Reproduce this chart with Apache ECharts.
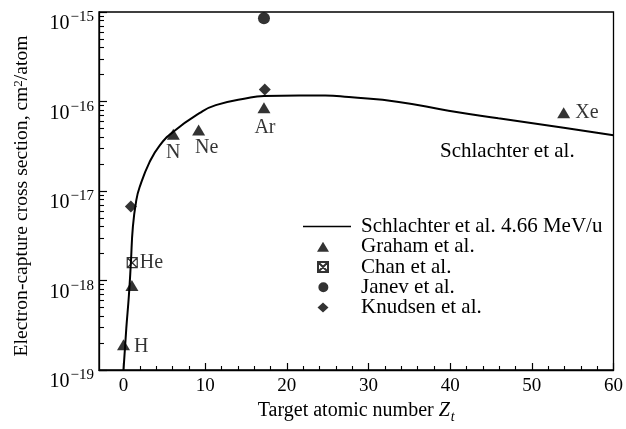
<!DOCTYPE html>
<html><head><meta charset="utf-8">
<script src="https://cdn.jsdelivr.net/npm/echarts@6/dist/echarts.min.js"></script>
<style>html,body{margin:0;padding:0;background:#fff}#c{width:626px;height:429px}</style>
</head><body><div id="c"></div>
<script>
// Schlachter et al. 4.66 MeV/u curve
const curveZ =     [0,     0.34,    0.66,    0.90,     1.15,    1.56,    1.97,    3.19,    4.4,     6.1,     9.3,     11.3,    15.4,    17.2,     21.5,     24.7,     27.6,     33.7,    39.8,    45.9,    53.9,    60];
const curveSigma = [1e-19, 2.9e-19, 6.8e-19, 1.55e-18, 4.0e-18, 7.8e-18, 1.1e-17, 2.1e-17, 3.2e-17, 4.6e-17, 7.4e-17, 9.1e-17, 1.1e-16, 1.15e-16, 1.17e-16, 1.17e-16, 1.12e-16, 9.9e-17, 7.9e-17, 6.5e-17, 5.1e-17, 4.2e-17];

const grahamZ = [0, 1.03, 6.1, 9.2, 17.2, 53.9];
const grahamSigma = [1.92e-19, 8.8e-19, 4.3e-17, 4.8e-17, 8.5e-17, 7.5e-17];
const grahamLabels = ['H', '', 'N', 'Ne', 'Ar', 'Xe'];

const chanZ = [1.07];
const chanSigma = [1.58e-18];
const chanLabels = ['He'];

const janevZ = [17.2];
const janevSigma = [8.5e-16];

const knudsenZ = [0.9, 17.3];
const knudsenSigma = [6.7e-18, 1.36e-16];

const xTicks = [0, 10, 20, 30, 40, 50, 60];
const xMinorTicks = [2, 4, 6, 8, 12, 14, 16, 18, 22, 24, 26, 28, 32, 34, 36, 38, 42, 44, 46, 48, 52, 54, 56, 58];
const yTickExponents = [-19, -18, -17, -16, -15];
const yMinorMantissas = [2, 3, 4, 5, 6, 7, 8, 9];

const seriesNames = ['Schlachter et al. 4.66 MeV/u', 'Graham et al.', 'Chan et al.', 'Janev et al.', 'Knudsen et al.'];
const annotationText = 'Schlachter et al.';

const FONT = 'Liberation Serif';
const yMajor = yTickExponents.map(e => Math.pow(10, e));
const yMinor = [];
yTickExponents.slice(0, -1).forEach(e => yMinorMantissas.forEach(m => yMinor.push(m * Math.pow(10, e))));

const labelCfg = {
  H:  {position: 'right', distance: 4, offset: [0, 2]},
  N:  {position: 'bottom', distance: 3, offset: [0, 0]},
  Ne: {position: 'bottom', distance: 2, offset: [8, 0]},
  Ar: {position: 'bottom', distance: 4, offset: [1, 0]},
  Xe: {position: 'right', distance: 5, offset: [0, 0]},
  He: {position: 'right', distance: 2, offset: [0, 0]}
};
function pts(zs, ss, labels) {
  return zs.map((z, i) => {
    const item = {value: [z, ss[i]]};
    const l = labels && labels[i];
    if (l) {
      item.label = Object.assign({show: true, formatter: l, fontFamily: FONT, fontSize: 20, color: '#000'}, labelCfg[l]);
    }
    return item;
  });
}

const chanPath = 'path://M0,0L10,0L10,10L0,10Z M0,0L10,10 M10,0L0,10';
// legend icons: a 48-wide frame (end points) keeps the marks left of centre like the reference
const legendIcons = [
  'path://M0,4.2L48,4.2L48,5.8L0,5.8Z M0,0L0.3,0 M47.7,10L48,10',
  'path://M20,0L26,10L14,10Z M0,0L0.3,0 M47.7,10L48,10',
  'path://M15,0L25,0L25,10L15,10Z M15,0L25,10 M25,0L15,10 M0,0L0,0 M48,10L48,10',
  'path://M25.5,5A5.5,5.5,0,1,1,14.5,5A5.5,5.5,0,1,1,25.5,5Z M0,0L0.3,0 M47.7,10L48,10',
  'path://M20,0L25.5,5L20,10L14.5,5Z M0,0L0.3,0 M47.7,10L48,10'
];

const chart = echarts.init(document.getElementById('c'), null, {renderer: 'canvas'});
chart.setOption({
  animation: false,
  backgroundColor: '#fff',
  grid: {left: 99, right: 10, top: 12, bottom: 54, show: true, borderColor: '#000', borderWidth: 1.3, backgroundColor: 'transparent'},
  legend: {
    orient: 'vertical', left: 297, top: 211,
    itemWidth: 48, itemHeight: 10, itemGap: -0.75, symbolKeepAspect: true,
    textStyle: {fontFamily: FONT, fontSize: 21, color: '#000', lineHeight: 18.3, padding: [0, 0, 0, 5]},
    data: seriesNames.map((n, i) => ({name: n, icon: legendIcons[i]}))
  },
  xAxis: [{
    type: 'value', min: -3, max: 60,
    axisLine: {show: true, onZero: false, lineStyle: {color: '#000', width: 1.3}},
    axisTick: {show: true, inside: true, length: 7, customValues: xTicks, lineStyle: {color: '#000', width: 1.2}},
    axisLabel: {show: true, customValues: xTicks, fontFamily: FONT, fontSize: 19, color: '#000', margin: 7},
    splitLine: {show: false},
    name: 'Target atomic number {i|Z}{sub|t}',
    nameLocation: 'middle', nameGap: 28,
    nameTextStyle: {fontFamily: FONT, fontSize: 20, color: '#000',
      rich: {
        i: {fontFamily: FONT, fontSize: 20, fontStyle: 'italic', color: '#000'},
        sub: {fontFamily: FONT, fontSize: 14, fontStyle: 'italic', color: '#000', padding: [12, 0, 0, 1]}
      }}
  }, {
    type: 'value', min: -3, max: 60, position: 'bottom',
    axisLine: {show: false, onZero: false},
    axisTick: {show: true, inside: true, length: 4, customValues: xMinorTicks, lineStyle: {color: '#000', width: 1.1}},
    axisLabel: {show: false},
    splitLine: {show: false}
  }],
  yAxis: [{
    type: 'log', logBase: 10, min: 1e-19, max: 1e-15,
    axisLine: {show: true, onZero: false, lineStyle: {color: '#000', width: 1.3}},
    axisTick: {show: true, inside: true, length: 8, customValues: yMajor, lineStyle: {color: '#000', width: 1.2}},
    axisLabel: {
      show: true, customValues: yMajor, margin: 5, color: '#000',
      formatter: v => '{b|10}{s|\u2212' + (-Math.round(Math.log10(v))) + '}',
      rich: {
        b: {fontFamily: FONT, fontSize: 20, color: '#000', lineHeight: 20, padding: [12, 0, 0, 0], verticalAlign: 'top'},
        s: {fontFamily: FONT, fontSize: 15, color: '#000', lineHeight: 15, padding: [8, 0, 0, 1], verticalAlign: 'top'}
      }
    },
    splitLine: {show: false},
    name: 'Electron-capture cross section, cm{s|2}/atom',
    nameLocation: 'middle', nameGap: 90,
    nameTextStyle: {fontFamily: FONT, fontSize: 19.6, color: '#000', lineHeight: 20, padding: [3, 10, 0, 0], verticalAlign: 'top',
      rich: {s: {fontFamily: FONT, fontSize: 13, color: '#000', lineHeight: 14, verticalAlign: 'top'}}}
  }, {
    type: 'log', logBase: 10, min: 1e-19, max: 1e-15, position: 'left',
    axisLine: {show: false, onZero: false},
    axisTick: {show: true, inside: true, length: 5, customValues: yMinor, lineStyle: {color: '#000', width: 1.1}},
    axisLabel: {show: false},
    splitLine: {show: false}
  }],
  graphic: [{
    type: 'text', left: 440, top: 141,
    style: {text: annotationText, fontFamily: FONT, fontSize: 21, fill: '#000'}
  }],
  series: [{
    name: seriesNames[0], type: 'line', smooth: 0.5, symbol: 'none', clip: true,
    lineStyle: {color: '#000', width: 2},
    itemStyle: {color: '#000'},
    data: curveZ.map((z, i) => [z, curveSigma[i]])
  }, {
    name: seriesNames[1], type: 'scatter', symbol: 'triangle', symbolSize: [13, 11],
    itemStyle: {color: '#000'},
    data: pts(grahamZ, grahamSigma, grahamLabels)
  }, {
    name: seriesNames[2], type: 'scatter', symbol: chanPath, symbolSize: 10,
    itemStyle: {color: 'rgba(255,255,255,0)', borderColor: '#000', borderWidth: 1.2},
    data: pts(chanZ, chanSigma, chanLabels)
  }, {
    name: seriesNames[3], type: 'scatter', symbol: 'circle', symbolSize: 12,
    itemStyle: {color: '#000'},
    data: pts(janevZ, janevSigma)
  }, {
    name: seriesNames[4], type: 'scatter', symbol: 'diamond', symbolSize: 12,
    itemStyle: {color: '#000'},
    data: pts(knudsenZ, knudsenSigma)
  }]
});
</script></body></html>
